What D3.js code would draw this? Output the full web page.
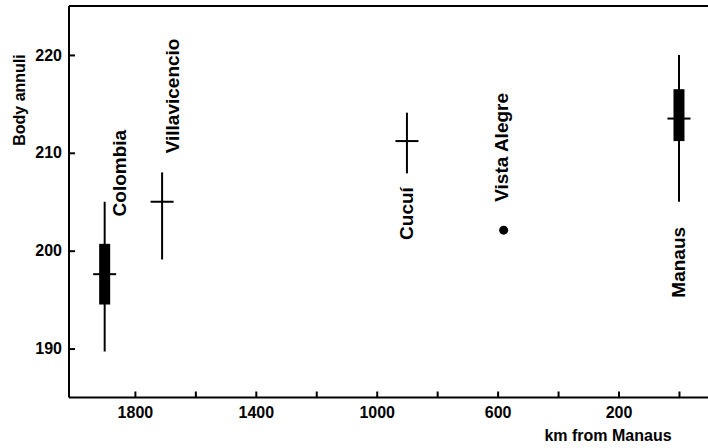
<!DOCTYPE html>
<html>
<head>
<meta charset="utf-8">
<script src="https://cdn.jsdelivr.net/npm/d3@7"></script>
<style>
  html, body { margin: 0; padding: 0; background: #fff; }
  svg { display: block; }
  text { font-family: "Liberation Sans", Arial, Helvetica, sans-serif; font-weight: bold; fill: #000; }
</style>
</head>
<body>
<svg id="chart" width="708" height="448"></svg>
<script>
// ---- data ----
const sites    = ["Colombia", "Villavicencio", "Cucuí", "Vista Alegre", "Manaus"];
const kmFromManaus = [1900, 1710, 900, 580, 0];
const meanAnnuli   = [197.6, 205.0, 211.2, 202.1, 213.5];
const rangeLow     = [189.7, 199.1, 207.9, null, 205.0];
const rangeHigh    = [205.0, 208.0, 214.1, null, 220.0];
const boxLow       = [194.5, null, null, null, 211.2];
const boxHigh      = [200.7, null, null, null, 216.5];
const xTicks = [1800, 1600, 1400, 1200, 1000, 800, 600, 400, 200, 0];
const xTickLabels = ["1800", "", "1400", "", "1000", "", "600", "", "200", ""];
const yTicks = [190, 200, 210, 220];
const xTitle = "km from Manaus";
const yTitle = "Body annuli";

// ---- layout ----
const svg = d3.select("#chart");
const pLeft = 69, pRight = 708, pTop = 6, pBottom = 397.5;
const x = d3.scaleLinear().domain([2018, -96]).range([pLeft, pRight]);
const y = d3.scaleLinear().domain([185, 225]).range([pBottom, pTop]);

// label placement (pixel offsets from the mark's x, start value on y)
const labelDx = [21.5, 16.5, 6, 4, 6.5];
const labelStart = [203.5, 209.95, 201.1, 205.0, 195.2];

// top frame line
svg.append("line")
  .attr("x1", pLeft).attr("x2", pRight)
  .attr("y1", pTop).attr("y2", pTop)
  .attr("stroke", "#000").attr("stroke-width", 2);

// axes
const xAxis = d3.axisBottom(x)
  .tickValues(xTicks)
  .tickFormat((d, i) => xTickLabels[i])
  .tickSizeInner(-6).tickSizeOuter(0).tickPadding(9);
const gx = svg.append("g").attr("transform", `translate(0,${pBottom})`).call(xAxis);

const yAxis = d3.axisLeft(y)
  .tickValues(yTicks)
  .tickFormat(d3.format("d"))
  .tickSizeInner(-6).tickSizeOuter(0).tickPadding(7);
const gy = svg.append("g").attr("transform", `translate(${pLeft},0)`).call(yAxis);

[gx, gy].forEach(g => {
  g.select(".domain").attr("stroke", "#000").attr("stroke-width", 2);
  g.selectAll(".tick line").attr("stroke", "#000").attr("stroke-width", 2);
  g.selectAll(".tick text")
    .attr("font-family", "Liberation Sans, Arial, sans-serif")
    .attr("font-weight", "bold")
    .attr("font-size", 16)
    .attr("fill", "#000");
});
gx.select(".domain").attr("d", `M${pLeft},0H${pRight}`);
gy.select(".domain").attr("d", `M0,${pTop}V${pBottom}`);

// axis titles
svg.append("text")
  .attr("x", 608).attr("y", 441)
  .attr("text-anchor", "middle")
  .attr("font-size", 16)
  .text(xTitle);

svg.append("text")
  .attr("transform", "translate(24.5,100) rotate(-90)")
  .attr("text-anchor", "middle")
  .attr("font-size", 16)
  .text(yTitle);

// marks
const data = sites.map((s, i) => ({
  site: s, km: kmFromManaus[i], mean: meanAnnuli[i],
  lo: rangeLow[i], hi: rangeHigh[i], bLo: boxLow[i], bHi: boxHigh[i], i
}));

const g = svg.append("g");

// whiskers
g.selectAll("line.range")
  .data(data.filter(d => d.lo != null))
  .join("line")
  .attr("class", "range")
  .attr("x1", d => x(d.km)).attr("x2", d => x(d.km))
  .attr("y1", d => y(d.hi)).attr("y2", d => y(d.lo))
  .attr("stroke", "#000").attr("stroke-width", 2);

// boxes
g.selectAll("rect.box")
  .data(data.filter(d => d.bLo != null))
  .join("rect")
  .attr("class", "box")
  .attr("x", d => x(d.km) - 5.5).attr("width", 11)
  .attr("y", d => y(d.bHi)).attr("height", d => y(d.bLo) - y(d.bHi))
  .attr("fill", "#000");

// mean cross bars
g.selectAll("line.mean")
  .data(data.filter(d => d.lo != null))
  .join("line")
  .attr("class", "mean")
  .attr("x1", d => x(d.km) - 11.5).attr("x2", d => x(d.km) + 11.5)
  .attr("y1", d => y(d.mean)).attr("y2", d => y(d.mean))
  .attr("stroke", "#000").attr("stroke-width", 2);

// single-value points
g.selectAll("circle.pt")
  .data(data.filter(d => d.lo == null))
  .join("circle")
  .attr("class", "pt")
  .attr("cx", d => x(d.km)).attr("cy", d => y(d.mean))
  .attr("r", 4.5).attr("fill", "#000");

// site labels (vertical)
g.selectAll("text.site")
  .data(data)
  .join("text")
  .attr("class", "site")
  .attr("transform", d => `translate(${x(d.km) + labelDx[d.i]},${y(labelStart[d.i])}) rotate(-90)`)
  .attr("text-anchor", "start")
  .attr("font-size", 19)
  .text(d => d.site);
</script>
</body>
</html>
